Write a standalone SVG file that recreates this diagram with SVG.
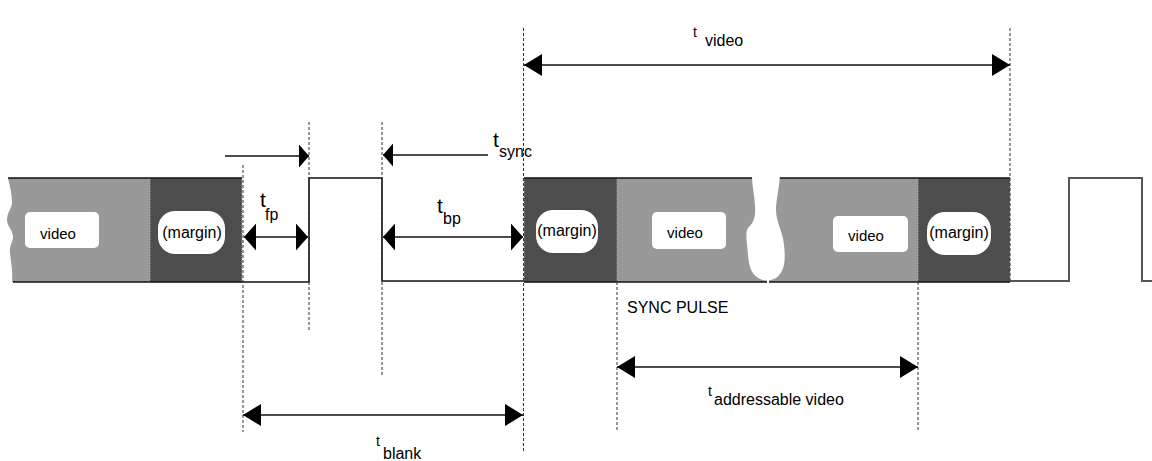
<svg xmlns="http://www.w3.org/2000/svg" width="1152" height="461" viewBox="0 0 1152 461">
  <style>
    text { font-family: "Liberation Sans", Arial, sans-serif; fill: #000; }
    .lbl { font-size: 15px; text-anchor: middle; }
    .mlbl { font-size: 16px; text-anchor: middle; }
    .tbig { font-size: 21px; }
    .tsm { font-size: 14px; }
    .sub { font-size: 16px; }
    .vid { fill: #999999; }
    .mar { fill: #4d4d4d; stroke: #b0b0b0; stroke-width: 1; stroke-dasharray: 1 1; }
    .box { fill: #ffffff; }
    .sig { fill: none; stroke: #111; stroke-width: 1.6; }
    .sig2 { fill: none; stroke: #555; stroke-width: 2; }
    .dash { fill: none; stroke: #333; stroke-width: 1; stroke-dasharray: 3 2; }
    .dim { fill: none; stroke: #111; stroke-width: 1.6; }
  </style>
  <defs>
    <marker id="ahL" viewBox="0 0 18 22" refX="18" refY="11" markerWidth="18" markerHeight="22" markerUnits="userSpaceOnUse" orient="auto-start-reverse">
      <path d="M0,0 L18,11 L0,22 Z" fill="#000"/>
    </marker>
    <marker id="ahS" viewBox="0 0 12 27" refX="12" refY="13.5" markerWidth="12" markerHeight="27" markerUnits="userSpaceOnUse" orient="auto-start-reverse">
      <path d="M0,0 L12,13.5 L0,27 Z" fill="#000"/>
    </marker>
    <marker id="ahT" viewBox="0 0 10 23" refX="10" refY="11.5" markerWidth="10" markerHeight="23" markerUnits="userSpaceOnUse" orient="auto-start-reverse">
      <path d="M0,0 L10,11.5 L0,23 Z" fill="#000"/>
    </marker>
  </defs>

  <!-- band segments -->
  <g id="video-left">
    <path class="vid" d="M8,178 L150,178 L150,282 L12,282 C13,272 11,262 10,253 C9,246 13,242 13,237 C13,230 7,226 7,220 C7,212 12,208 12,203 C12,195 10,186 8,178 Z"/>
    <rect class="box" x="25" y="212" width="74" height="36" rx="5"/>
    <text class="lbl" x="58" y="239">video</text>
  </g>
  <g id="margin-left">
    <rect class="mar" x="150" y="178" width="92" height="104"/>
    <rect class="box" x="158" y="211" width="67" height="43" rx="17"/>
    <text class="mlbl" x="192" y="238">(margin)</text>
  </g>
  <g id="margin-mid">
    <rect class="mar" x="524" y="178" width="93" height="104"/>
    <rect class="box" x="536" y="210" width="62" height="43" rx="17"/>
    <text class="mlbl" x="567" y="236">(margin)</text>
  </g>
  <g id="video-mid">
    <rect class="vid" x="617" y="178" width="301" height="104"/>
    <rect class="box" x="652" y="212" width="74" height="37" rx="5"/>
    <text class="lbl" x="685" y="238">video</text>
    <rect class="box" x="833" y="216" width="75" height="36" rx="5"/>
    <text class="lbl" x="866" y="241">video</text>
  </g>
  <g id="margin-right">
    <rect class="mar" x="918" y="178" width="92" height="104"/>
    <rect class="box" x="927" y="212" width="64" height="43" rx="18"/>
    <text class="mlbl" x="959" y="238">(margin)</text>
  </g>

  <!-- signal -->
  <g id="signal">
    <path class="sig" d="M8,178 L242,178"/>
    <path class="sig" d="M13,282 L309,282 L309,178 L382,178 L382,281 L524,281"/>
    <path class="sig" d="M524,178 L1010,178"/>
    <path class="sig" d="M524,282 L1010,282"/>
    <path class="sig2" d="M1010,281 L1069,281 L1069,178 L1142,178 L1142,281 L1152,281"/>
  </g>

  <!-- break mark -->
  <g id="break">
    <path fill="#ffffff" d="M752,175 L780,175 C779,190 776,200 776,210 C776,222 783,232 784,245 C786,262 784,272 776,278 C771,281 765,281 760,279 C752,275 749,268 748,255 C747,240 745,233 748,228 C753,223 756,218 755,205 C754,192 752,185 752,175 Z"/>
    <rect fill="#ffffff" x="767" y="280" width="2" height="4"/>
  </g>

  <!-- connectors -->
  <g id="connectors">
    <line class="dash" x1="243" y1="165" x2="243" y2="432"/>
    <line class="dash" x1="309" y1="122" x2="309" y2="331"/>
    <line class="dash" x1="382" y1="122" x2="382" y2="375"/>
    <line class="dash" x1="523.5" y1="28" x2="523.5" y2="453"/>
    <line class="dash" x1="617" y1="282" x2="617" y2="432"/>
    <line class="dash" x1="918" y1="282" x2="918" y2="432"/>
    <line class="dash" x1="1010" y1="28" x2="1010" y2="282"/>

    <line class="dim" x1="524" y1="65" x2="1010" y2="65" marker-start="url(#ahL)" marker-end="url(#ahL)"/>
    <line class="dim" x1="243" y1="415" x2="523" y2="415" marker-start="url(#ahL)" marker-end="url(#ahL)"/>
    <line class="dim" x1="617" y1="367" x2="918" y2="367" marker-start="url(#ahL)" marker-end="url(#ahL)"/>
    <line class="dim" x1="244" y1="237" x2="308" y2="237" marker-start="url(#ahS)" marker-end="url(#ahS)"/>
    <line class="dim" x1="383" y1="237" x2="523" y2="237" marker-start="url(#ahS)" marker-end="url(#ahS)"/>
    <line class="dim" x1="225" y1="156" x2="309" y2="156" marker-end="url(#ahT)"/>
    <line class="dim" x1="488" y1="155" x2="383" y2="155" marker-end="url(#ahT)"/>
  </g>

  <!-- labels -->
  <g id="label-tvideo">
    <text class="tsm" x="693" y="37">t</text>
    <text class="sub" x="705" y="46">video</text>
  </g>
  <g id="label-tfp">
    <text class="tbig" x="260" y="207">t</text>
    <text class="sub" x="265" y="220">fp</text>
  </g>
  <g id="label-tbp">
    <text class="tbig" x="437" y="213">t</text>
    <text class="sub" x="443" y="224">bp</text>
  </g>
  <g id="label-tsync">
    <text class="tbig" x="493" y="147">t</text>
    <text class="sub" x="499" y="157">sync</text>
  </g>
  <g id="label-sync-pulse">
    <text class="sub" x="627" y="313">SYNC PULSE</text>
  </g>
  <g id="label-taddr">
    <text class="tsm" x="708" y="396">t</text>
    <text class="sub" x="714" y="405">addressable video</text>
  </g>
  <g id="label-tblank">
    <text class="tsm" x="376" y="446">t</text>
    <text class="sub" x="383" y="459">blank</text>
  </g>
</svg>
